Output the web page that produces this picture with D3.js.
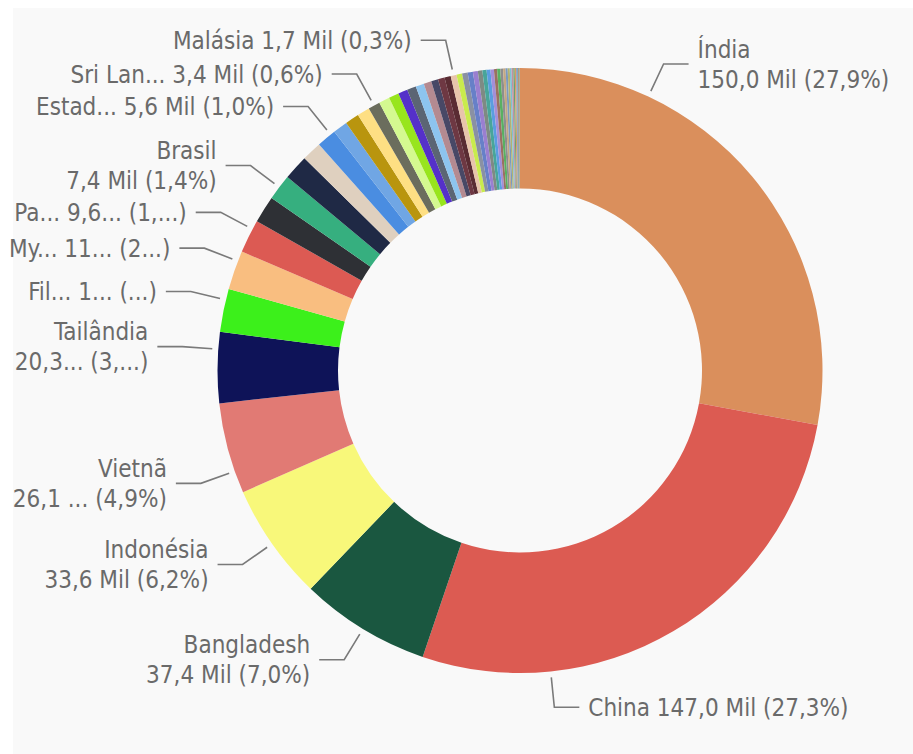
<!DOCTYPE html>
<html lang="pt">
<head>
<meta charset="UTF-8">
<title>Rosca</title>
<script src="https://cdn.jsdelivr.net/npm/d3@7"></script>
<style>
  body { margin: 0; background: #fff; }
  svg text { font-family: "DejaVu Sans Condensed", "DejaVu Sans", sans-serif; font-stretch: condensed; font-size: 24px; fill: #6a6a6a; }
</style>
</head>
<body>
<svg width="913" height="754"></svg>
<script>
// categorias (ordem decrescente, como no gráfico)
var categories = ["Índia", "China", "Bangladesh", "Indonésia", "Vietnã", "Tailândia", "Filipinas", "Myanmar",
  "Paquistão", "Japão", "Brasil", "Egito", "Nigéria", "Estados Unidos", "Irã", "México", "Nepal", "Sri Lanka",
  "Rússia", "Coreia do Sul", "Camboja", "Peru", "Turquia", "Equador", "Colômbia", "Taiwan", "Uganda", "Malásia",
  "Laos", "Tanzânia", "Gana", "Chile", "Noruega", "Argentina", "Quênia", "Espanha", "Venezuela", "Zâmbia",
  "Honduras", "Arábia Saudita", "Madagascar", "Cuba", "Guatemala", "Polônia", "Itália", "França", "Grécia",
  "Israel", "Canadá", "Austrália", "Portugal"];
// valores em milhares (Mil)
var values = [150.0, 147.0, 37.4, 33.6, 26.1, 20.3, 12.4, 11.2,
  9.6, 7.8, 7.4, 7.2, 5.7, 5.6, 4.2, 4.0, 3.6, 3.4,
  3.1, 2.9, 2.7, 2.6, 2.4, 2.2, 2.0, 1.9, 1.8, 1.7,
  1.6, 1.6, 1.5, 1.4, 1.3, 1.2, 1.1, 1.0, 0.9, 0.9,
  0.8, 0.7, 0.6, 0.6, 0.5, 0.5, 0.4, 0.4, 0.3,
  0.3, 0.2, 0.2, 0.1];
var colors = ["#DA8F5C", "#DC5B52", "#1A5740", "#F8F87A", "#E17A74", "#0E1358", "#3CF01B", "#F9BE80",
  "#DC5A53", "#2E3035", "#36AF7F", "#1F2945", "#DFD0BF", "#4A8DE1", "#70A6E4", "#B9950E", "#FEDF83", "#6B6D5D",
  "#D4F990", "#98E51D", "#5531C9", "#5B6574", "#8DC4EF", "#B48A91", "#484866", "#6E3843", "#5A2C33", "#E8C4AB",
  "#C9EB4D", "#8A91A3", "#6780C8", "#9A7FD0", "#7E8A84", "#48A59A", "#5A9DE0", "#A38FD8", "#9A7062", "#59B062",
  "#8E8E8E", "#C4A882", "#7A9AC0", "#B2B272", "#7FC0D2", "#C090A2", "#6FA06F", "#D1A160", "#9090C2",
  "#5FA0B0", "#B07050", "#A2C260", "#8A6FA8"];

// rótulos de dados visíveis
var labeledCategories = ["Índia", "China", "Bangladesh", "Indonésia", "Vietnã", "Tailândia", "Filipinas",
  "Myanmar", "Paquistão", "Brasil", "Estados Unidos", "Sri Lanka", "Malásia"];
var labelTexts = [
  ["Índia", "150,0 Mil (27,9%)"],
  ["China 147,0 Mil (27,3%)"],
  ["Bangladesh", "37,4 Mil (7,0%)"],
  ["Indonésia", "33,6 Mil (6,2%)"],
  ["Vietnã", "26,1 ... (4,9%)"],
  ["Tailândia", "20,3... (3,...)"],
  ["Fil... 1... (...)"],
  ["My... 11... (2...)"],
  ["Pa... 9,6... (1,...)"],
  ["Brasil", "7,4 Mil (1,4%)"],
  ["Estad... 5,6 Mil (1,0%)"],
  ["Sri Lan... 3,4 Mil (0,6%)"],
  ["Malásia 1,7 Mil (0,3%)"]
];

var data = categories.map(function (c, i) { return { name: c, value: values[i], color: colors[i] }; });

var cx = 520, cy = 370.5, outerR = 302.5, innerR = 182;

var svg = d3.select('svg');
svg.append('rect').attr('x', 13).attr('y', 8).attr('width', 900).attr('height', 746).attr('fill', '#f9f9f9');

var g = svg.append('g').attr('transform', 'translate(' + cx + ',' + cy + ')');

var pie = d3.pie().sort(null).value(function (d) { return d.value; });
var arc = d3.arc().innerRadius(innerR).outerRadius(outerR);
var arcs = pie(data);

g.selectAll('path')
  .data(arcs)
  .enter()
  .append('path')
  .attr('d', arc)
  .attr('fill', function (d) { return d.data.color; });

// posição dos rótulos: ângulo médio da fatia (fatias grandes: ponto a 1/4 mais próximo do eixo vertical)
var nudge = { "Tailândia": 3.5, "Vietnã": -4.5, "Filipinas": 2, "Myanmar": 1.8, "Paquistão": 1.5, "Estados Unidos": 1 };
function anchorAngle(a) {
  var span = a.endAngle - a.startAngle;
  if (span > Math.PI / 2) {
    var q1 = a.startAngle + span * 0.25, q3 = a.startAngle + span * 0.75;
    return Math.abs(Math.sin(q1)) < Math.abs(Math.sin(q3)) ? q1 : q3;
  }
  return (a.startAngle + a.endAngle) / 2;
}

var byName = {};
arcs.forEach(function (a) { byName[a.data.name] = a; });

var lineH = 30;
labeledCategories.forEach(function (name, i) {
  var a = byName[name];
  var ang = anchorAngle(a) + (nudge[name] || 0) * Math.PI / 180;
  var p0 = d3.pointRadial(ang, outerR + 6);
  var p1 = d3.pointRadial(ang, outerR + 36);
  var side = Math.sin(ang) >= 0 ? 1 : -1;
  var p2 = [p1[0] + side * 25, p1[1]];

  g.append('polyline')
    .attr('points', [p0, p1, p2].map(function (p) { return p.join(','); }).join(' '))
    .attr('fill', 'none')
    .attr('stroke', '#7a7a7a')
    .attr('stroke-width', 1.6);

  var lines = labelTexts[i];
  var t = g.append('text')
    .attr('text-anchor', side > 0 ? 'start' : 'end');
  lines.forEach(function (s, k) {
    t.append('tspan')
      .attr('x', p2[0] + side * 9)
      .attr('y', p1[1] + (k - (lines.length - 1) / 2) * lineH)
      .attr('dy', '0.36em')
      .text(s);
  });
});
</script>
</body>
</html>
